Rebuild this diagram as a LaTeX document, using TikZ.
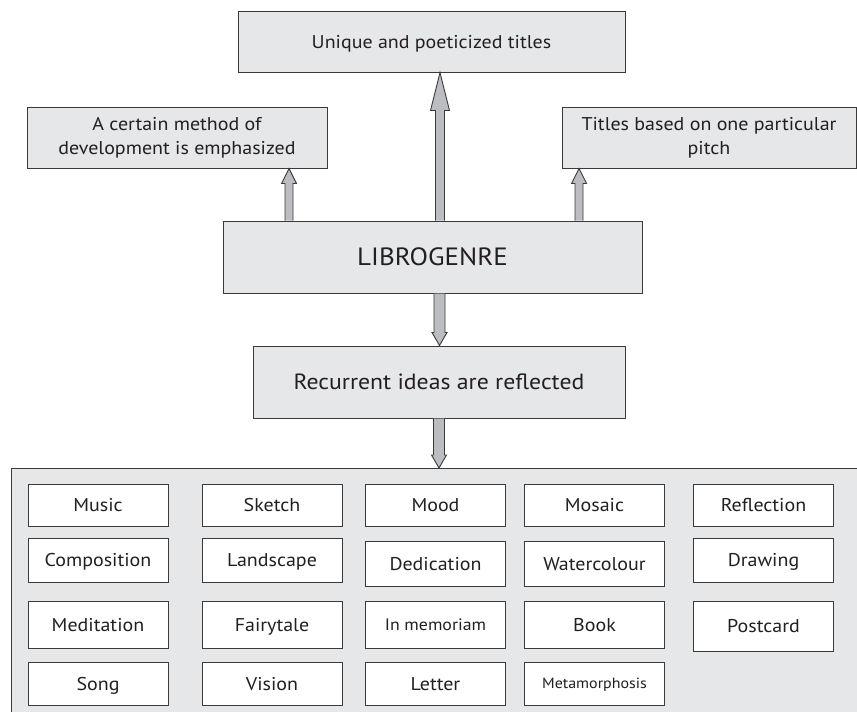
\documentclass[tikz,border=0pt]{standalone}
\usepackage{fontspec}
\setmainfont{PT Sans}[FakeStretch=1.08]
\usetikzlibrary{calc}
\definecolor{boxgray}{HTML}{E6E7E8}
\definecolor{arrowgray}{HTML}{BCBDC0}
\definecolor{linegray}{HTML}{3A3A3A}
\definecolor{txt}{HTML}{231F20}
\tikzset{
  graybox/.style={draw=linegray, line width=1pt, fill=boxgray, rectangle, inner sep=0pt, align=center, text=txt},
  onerow/.style={text height=#1, text depth=0pt},
  itembox/.style={draw=linegray, line width=0.9pt, fill=white, rectangle, inner sep=0pt, minimum width=140pt, text=txt, font=\fontsize{18.5}{22}\selectfont, onerow=13pt},
  arrowsty/.style={draw=linegray, line width=0.9pt, fill=arrowgray, line join=miter},
}
% #1 start, #2 tip, #3 half shaft, #4 half head, #5 head length
\newcommand\vblockarrow[5]{%
  \path[arrowsty] let \p1=#1, \p2=#2, \n1={sign(\y2-\y1)} in
    (\x1-#3,\y1) -- (\x1-#3,\y2-\n1*#5) -- (\x1-#4,\y2-\n1*#5) -- (\x1,\y2)
    -- (\x1+#4,\y2-\n1*#5) -- (\x1+#3,\y2-\n1*#5) -- (\x1+#3,\y1);}
\begin{document}
\begin{tikzpicture}[x=1pt,y=-1pt]
\useasboundingbox (0,0) rectangle (857,712);
% frame
\path[fill=boxgray, draw=linegray, line width=1pt] (11,468) rectangle (875,730);
% main boxes
\node[graybox, onerow=13pt, minimum width=387pt, minimum height=61pt, font=\fontsize{18.5}{22}\selectfont] (top) at (431.5,41.5) {Unique and poeticized titles};
\node[graybox, minimum width=300pt, minimum height=61pt, font=\fontsize{18.5}{24}\selectfont] (left) at (177,137.5) {A certain method of\\development is emphasized};
\node[graybox, minimum width=294pt, minimum height=61pt, font=\fontsize{18.5}{24}\selectfont] (right) at (709,137.5) {Titles based on one particular\\pitch};
\node[graybox, onerow=17.5pt, minimum width=419pt, minimum height=72pt, font=\fontsize{25}{30}\selectfont] (lib) at (432.5,257) {LIBROGENRE};
\node[graybox, onerow=15.4pt, minimum width=372pt, minimum height=72pt, font=\fontsize{22}{26}\selectfont] (rec) at (439,382) {Recurrent ideas are reflected};
\coordinate (grid) at (439.5,468);
% arrows
\vblockarrow{([xshift=-143.5pt]lib.north)}{([xshift=-143.5pt]lib.north |- left.south)}{4}{7.5}{15}
\vblockarrow{([xshift=7.5pt]lib.north)}{([xshift=7.5pt]lib.north |- top.south)}{4.5}{9.5}{38}
\vblockarrow{([xshift=146.5pt]lib.north)}{([xshift=146.5pt]lib.north |- right.south)}{4}{7.5}{15}
\vblockarrow{([xshift=7pt]lib.south)}{([xshift=7pt]lib.south |- rec.north)}{5.5}{7.5}{13}
\vblockarrow{(rec.south)}{(rec.south |- grid)}{5.5}{7.5}{13}
% items row 1
\node[itembox, minimum height=42pt] (i11) at (98,505) {Music};
\node[itembox, minimum height=42pt] (i12) at (272,505) {Sketch};
\node[itembox, minimum height=42pt] (i13) at (435.5,505) {Mood};
\node[itembox, minimum height=42pt] (i14) at (594.5,505) {Mosaic};
\node[itembox, minimum height=42pt] (i15) at (763.5,505) {Reflection};
% row 2
\node[itembox, minimum height=44pt] (i21) at (98,560) {Composition};
\node[itembox, minimum height=44pt] (i22) at (272,560) {Landscape};
\node[itembox, minimum height=45pt] (i23) at (435.5,563.5) {Dedication};
\node[itembox, minimum height=45pt] (i24) at (594.5,563.5) {Watercolour};
\node[itembox, minimum height=44pt] (i25) at (763.5,560) {Drawing};
% row 3
\node[itembox, minimum height=47pt] (i31) at (98,624.5) {Meditation};
\node[itembox, minimum height=47pt] (i32) at (272,624.5) {Fairytale};
\node[itembox, minimum height=47pt, onerow=11.5pt, font=\fontsize{16.5}{20}\selectfont] (i33) at (435.5,624.5) {In memoriam};
\node[itembox, minimum height=47pt] (i34) at (594.5,624.5) {Book};
\node[itembox, minimum height=50pt] (i35) at (763.5,626) {Postcard};
% row 4
\node[itembox, minimum height=43pt] (i41) at (98,683.5) {Song};
\node[itembox, minimum height=43pt] (i42) at (272,683.5) {Vision};
\node[itembox, minimum height=43pt] (i43) at (435.5,683.5) {Letter};
\node[itembox, minimum height=43pt, onerow=10.4pt, font=\fontsize{14.8}{18}\selectfont] (i44) at (594.5,683.5) {Metamorphosis};
\end{tikzpicture}
\end{document}
